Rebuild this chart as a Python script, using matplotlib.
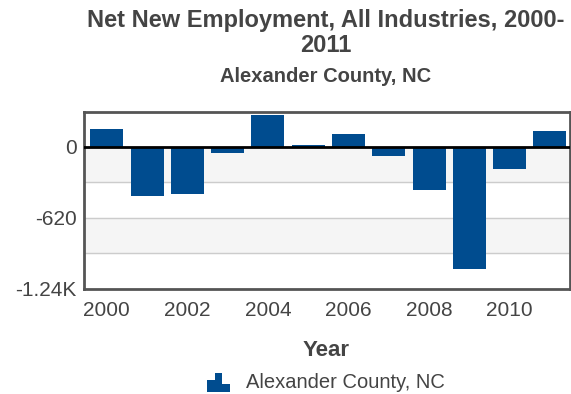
import matplotlib
matplotlib.use("Agg")
import matplotlib.pyplot as plt
from matplotlib.patches import Rectangle

plt.rcParams['font.family'] = ['Liberation Sans', 'DejaVu Sans']

# data
years = [2000, 2001, 2002, 2003, 2004, 2005, 2006, 2007, 2008, 2009, 2010, 2011]
net_new = [160, -431, -416, -55, 277, 20, 113, -78, -381, -1065, -192, 137]
y_ticks = [0, -620, -1240]
y_tick_labels = ["0", "-620", "-1.24K"]
x_ticks = [2000, 2002, 2004, 2006, 2008, 2010]
series_name = "Alexander County, NC"

bar_color = "#004C8F"
text_color = "#444444"

W, H = 571, 394
fig = plt.figure(figsize=(W / 100, H / 100), dpi=100)
ax = fig.add_axes([83.5 / W, 1 - 288.7 / H, (570 - 83.5) / W, (288.7 - 112) / H])

# alternating bands
ax.axhspan(-310, 0, color="#f5f5f5", zorder=0)
ax.axhspan(-930, -620, color="#f5f5f5", zorder=0)
for g in [-310, -620, -930]:
    ax.axhline(g, color="#cccccc", lw=1, zorder=1)

ax.bar(years, net_new, width=0.82, color=bar_color, zorder=2)
ax.axhline(0, color="black", lw=2, zorder=3)

ax.set_xlim(1999.42, 2011.5)
ax.set_ylim(-1240, 305)
ax.set_yticks(y_ticks)
ax.set_yticklabels(y_tick_labels)
ax.set_xticks(x_ticks)
ax.tick_params(length=0, labelsize=15, colors=text_color)
ax.tick_params(axis="y", pad=5)
ax.tick_params(axis="x", pad=9)
for s in ax.spines.values():
    s.set_color("#555555")
    s.set_linewidth(2)

cx = 326 / W
fig.text(cx, 1 - 350 / H, "Year", ha="center", va="center",
         fontsize=16, fontweight="bold", color=text_color)

fig.text(cx, 1 - 21 / H, "Net New Employment, All Industries, 2000-", ha="center", va="center",
         fontsize=17, fontweight="bold", color=text_color)
fig.text(cx, 1 - 45 / H, "2011", ha="center", va="center",
         fontsize=17, fontweight="bold", color=text_color)
fig.text(cx, 1 - 76 / H, series_name, ha="center", va="center",
         fontsize=14.5, fontweight="bold", color=text_color)

# legend: little bar icon + label
for x0, h in [(207, 12), (214.5, 19), (222, 8)]:
    fig.patches.append(Rectangle((x0 / W, 1 - 392 / H), 7.5 / W, h / H,
                                 transform=fig.transFigure, color=bar_color, lw=0))
fig.text(246 / W, 1 - 382 / H, series_name, ha="left", va="center",
         fontsize=14.5, color=text_color)

fig.savefig("out.png", dpi=100)
